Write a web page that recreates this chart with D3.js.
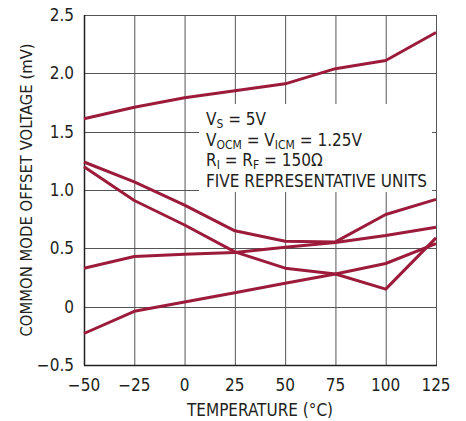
<!DOCTYPE html>
<html><head><meta charset="utf-8">
<script src="https://cdn.jsdelivr.net/npm/d3@7"></script>
<style>
body{margin:0;background:#fff;}
text{font-family:"Liberation Sans Narrow","DejaVu Sans Condensed","Liberation Sans",sans-serif;fill:#231f20;}
</style></head><body>
<svg id="c" width="466" height="421"></svg>
<script>
const temps = [-50, -25, 0, 25, 50, 75, 100, 125];
const unit1 = [1.61, 1.71, 1.79, 1.85, 1.91, 2.04, 2.11, 2.35];
const unit2 = [1.24, 1.07, 0.87, 0.65, 0.56, 0.555, 0.79, 0.92];
const unit3 = [1.20, 0.91, 0.70, 0.47, 0.33, 0.28, 0.15, 0.59];
const unit4 = [0.33, 0.43, 0.45, 0.465, 0.51, 0.55, 0.61, 0.68];
const unit5 = [-0.23, -0.04, 0.04, 0.12, 0.20, 0.28, 0.37, 0.54];
const xTicks = [-50, -25, 0, 25, 50, 75, 100, 125];
const yTicks = [-0.5, 0, 0.5, 1.0, 1.5, 2.0, 2.5];
const yTickLabels = ["\u22120.5", "0", "0.5", "1.0", "1.5", "2.0", "2.5"];
const xTickLabels = ["\u221250", "\u221225", "0", "25", "50", "75", "100", "125"];
const noteLines = [
  [["V", ""], ["S", "sub"], [" = 5V", ""]],
  [["V", ""], ["OCM", "sub"], [" = V", ""], ["ICM", "sub"], [" = 1.25V", ""]],
  [["R", ""], ["I", "sub"], [" = R", ""], ["F", "sub"], [" = 150\u03A9", ""]],
  [["FIVE REPRESENTATIVE UNITS", ""]]
];

const svg = d3.select("#c");
const x = d3.scaleLinear().domain([-50, 125]).range([84, 436]);
const y = d3.scaleLinear().domain([-0.5, 2.5]).range([365, 15]);
const gridColor = "#555";

// grid
svg.append("g").selectAll("line.v").data(xTicks).join("line")
  .attr("x1", d => x(d)+0.5).attr("x2", d => x(d)+0.5)
  .attr("y1", y(2.5)).attr("y2", y(-0.5))
  .attr("stroke", gridColor).attr("stroke-width", 1);
svg.append("g").selectAll("line.h").data(yTicks).join("line")
  .attr("x1", x(-50)).attr("x2", x(125))
  .attr("y1", d => Math.round(y(d))+0.5).attr("y2", d => Math.round(y(d))+0.5)
  .attr("stroke", gridColor).attr("stroke-width", 1);
// left & bottom axis darker
svg.append("line").attr("x1", x(-50)+0.5).attr("x2", x(-50)+0.5).attr("y1", y(2.5)).attr("y2", y(-0.5)+0.5).attr("stroke","#231f20").attr("stroke-width",1.5);
svg.append("line").attr("x1", x(-50)).attr("x2", x(125)+1).attr("y1", Math.round(y(-0.5))+0.5).attr("y2", Math.round(y(-0.5))+0.5).attr("stroke","#231f20").attr("stroke-width",1.5);

// note box background
svg.append("rect").attr("x", 199).attr("y", 104).attr("width", 233).attr("height", 88).attr("fill", "#fff");

// lines
const line = d3.line().x((d, i) => x(temps[i])).y(d => y(d));
svg.append("g").selectAll("path").data([unit1, unit2, unit3, unit4, unit5]).join("path")
  .attr("d", line).attr("fill", "none").attr("stroke", "#9c1b3b")
  .attr("stroke-width", 3).attr("stroke-linejoin", "round");

// tick labels
svg.append("g").selectAll("text").data(yTicks).join("text")
  .attr("x", 74).attr("y", d => y(d) + 6).attr("text-anchor", "end")
  .attr("font-size", 17).text((d, i) => yTickLabels[i]);
svg.append("g").selectAll("text").data(xTicks).join("text")
  .attr("x", d => x(d)).attr("y", 391).attr("text-anchor", "middle")
  .attr("font-size", 17).text((d, i) => xTickLabels[i]);

// axis titles
svg.append("text").attr("x", 260).attr("y", 416).attr("text-anchor", "middle")
  .attr("font-size", 17).text("TEMPERATURE (\u00B0C)");
svg.append("text").attr("transform", "translate(32,190) rotate(-90)").attr("text-anchor", "middle")
  .attr("font-size", 16.5).text("COMMON MODE OFFSET VOLTAGE (mV)");

// note
const noteG = svg.append("g");
noteLines.forEach((ln, i) => {
  const t = noteG.append("text").attr("x", 206).attr("y", 125 + i * 20.5).attr("font-size", 17);
  let prevSub = false;
  ln.forEach(([s, k]) => {
    const ts = t.append("tspan").text(s);
    if (k === "sub") { ts.attr("font-size", 12).attr("dy", 3); prevSub = true; }
    else if (prevSub) { ts.attr("dy", -3); prevSub = false; }
  });
});
</script>
</body></html>
